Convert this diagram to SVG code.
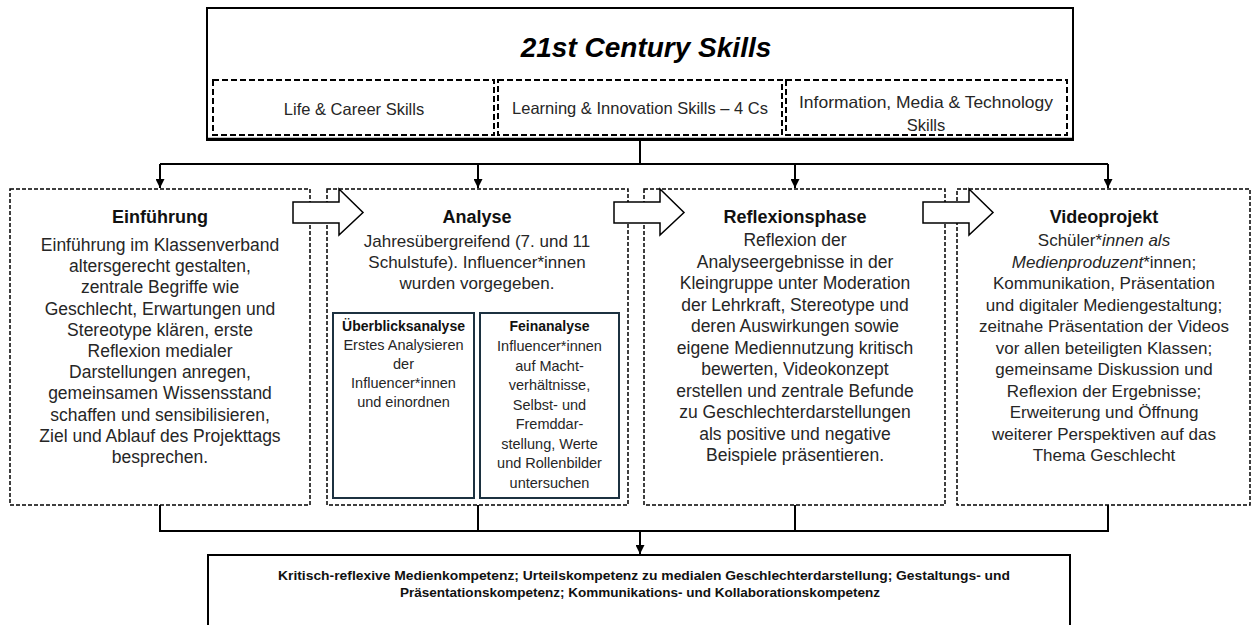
<svg xmlns="http://www.w3.org/2000/svg" width="1256" height="625" viewBox="0 0 1256 625">
<defs>
<style>
.bg{fill:#fff}
.solid{fill:#fff;stroke:#000;stroke-width:2}
.dash{fill:#fff;stroke:#000;stroke-width:1.5;stroke-dasharray:4 2}
.dash2{fill:#fff;stroke:#000;stroke-width:2;stroke-dasharray:6 3}
.inner{fill:#fff;stroke:#1c3140;stroke-width:2}
.conn{fill:none;stroke:#000;stroke-width:2}
.barrow{fill:#fff;stroke:#000;stroke-width:1.5;stroke-linejoin:miter}
text{font-family:"Liberation Sans",Arial,sans-serif;fill:#262626;text-anchor:middle}
.title{font-size:28px;font-weight:bold;font-style:italic;fill:#000}
.lbl{font-size:16.5px}
.h{font-size:18px;font-weight:bold;fill:#111}
.b{font-size:17.5px}
.c{font-size:17px}
.ih{font-size:14px;font-weight:bold;fill:#111}
.ib{font-size:14.5px}
.bot{font-size:12.5px;font-weight:bold;fill:#111}
</style>
<marker id="ah" viewBox="0 0 10 10" refX="10" refY="5" markerWidth="4.5" markerHeight="4.5" orient="auto" markerUnits="strokeWidth">
<path d="M0,0 L10,5 L0,10 z" fill="#000"/>
</marker>
</defs>
<rect class="bg" x="0" y="0" width="1256" height="625"/>

<g id="skills">
<rect class="solid" x="207" y="8" width="866" height="132"/>
<line x1="207" y1="138.5" x2="1073" y2="138.5" stroke="#000" stroke-width="1.5"/>
<text class="title" x="646" y="57">21st Century Skills</text>
<rect class="dash2" x="213" y="80" width="281" height="55"/>
<rect class="dash2" x="498" y="80" width="284" height="55"/>
<rect class="dash2" x="786" y="80" width="281" height="55"/>
<text class="lbl" x="354" y="115">Life &amp; Career Skills</text>
<text class="lbl" x="640" y="114">Learning &amp; Innovation Skills – 4 Cs</text>
<text class="lbl" x="926" y="108" textLength="254" lengthAdjust="spacingAndGlyphs">Information, Media &amp; Technology</text>
<text class="lbl" x="926" y="131">Skills</text>
</g>

<g id="einfuehrung">
<rect class="dash" x="10" y="189" width="300" height="316"/>
<text class="h" x="160" y="223">Einführung</text>
<text class="b" x="160" y="251">Einführung im Klassenverband</text>
<text class="b" x="160" y="272.2">altersgerecht gestalten,</text>
<text class="b" x="160" y="293.4">zentrale Begriffe wie</text>
<text class="b" x="160" y="314.6">Geschlecht, Erwartungen und</text>
<text class="b" x="160" y="335.8">Stereotype klären, erste</text>
<text class="b" x="160" y="357">Reflexion medialer</text>
<text class="b" x="160" y="378.2">Darstellungen anregen,</text>
<text class="b" x="160" y="399.4">gemeinsamen Wissensstand</text>
<text class="b" x="160" y="420.6">schaffen und sensibilisieren,</text>
<text class="b" x="160" y="441.8">Ziel und Ablauf des Projekttags</text>
<text class="b" x="160" y="463">besprechen.</text>
</g>

<g id="analyse">
<rect class="dash" x="327" y="189" width="301" height="316"/>
<text class="h" x="477" y="223">Analyse</text>
<text class="c" x="477" y="247">Jahresübergreifend (7. und 11</text>
<text class="c" x="477" y="268">Schulstufe). Influencer*innen</text>
<text class="c" x="477" y="289">wurden vorgegeben.</text>
</g>

<g id="ueberblicksanalyse">
<rect class="inner" x="333" y="313" width="141" height="185"/>
<text class="ih" x="403.5" y="331">Überblicksanalyse</text>
<text class="ib" x="403.5" y="350">Erstes Analysieren</text>
<text class="ib" x="403.5" y="369">der</text>
<text class="ib" x="403.5" y="388">Influencer*innen</text>
<text class="ib" x="403.5" y="407">und einordnen</text>
</g>

<g id="feinanalyse">
<rect class="inner" x="480" y="313" width="139" height="185"/>
<text class="ih" x="549.5" y="331">Feinanalyse</text>
<text class="ib" x="549.5" y="351">Influencer*innen</text>
<text class="ib" x="549.5" y="370.5">auf Macht-</text>
<text class="ib" x="549.5" y="390">verhältnisse,</text>
<text class="ib" x="549.5" y="409.5">Selbst- und</text>
<text class="ib" x="549.5" y="429">Fremddar-</text>
<text class="ib" x="549.5" y="448.5">stellung, Werte</text>
<text class="ib" x="549.5" y="468">und Rollenbilder</text>
<text class="ib" x="549.5" y="487.5">untersuchen</text>
</g>

<g id="reflexionsphase">
<rect class="dash" x="644" y="189" width="301" height="316"/>
<text class="h" x="795" y="223">Reflexionsphase</text>
<text class="b" x="795" y="246">Reflexion der</text>
<text class="b" x="795" y="267.5">Analyseergebnisse in der</text>
<text class="b" x="795" y="289">Kleingruppe unter Moderation</text>
<text class="b" x="795" y="310.5">der Lehrkraft, Stereotype und</text>
<text class="b" x="795" y="332">deren Auswirkungen sowie</text>
<text class="b" x="795" y="353.5">eigene Mediennutzung kritisch</text>
<text class="b" x="795" y="375">bewerten, Videokonzept</text>
<text class="b" x="795" y="396.5">erstellen und zentrale Befunde</text>
<text class="b" x="795" y="418">zu Geschlechterdarstellungen</text>
<text class="b" x="795" y="439.5">als positive und negative</text>
<text class="b" x="795" y="461">Beispiele präsentieren.</text>
</g>

<g id="videoprojekt">
<rect class="dash" x="957" y="189" width="293" height="316"/>
<text class="h" x="1104" y="223">Videoprojekt</text>
<text class="c" x="1104" y="246">Schüler*<tspan font-style="italic">innen als</tspan></text>
<text class="c" x="1104" y="267.5"><tspan font-style="italic">Medienproduzent</tspan>*innen;</text>
<text class="c" x="1104" y="289">Kommunikation, Präsentation</text>
<text class="c" x="1104" y="310.5">und digitaler Mediengestaltung;</text>
<text class="c" x="1104" y="332">zeitnahe Präsentation der Videos</text>
<text class="c" x="1104" y="353.5">vor allen beteiligten Klassen;</text>
<text class="c" x="1104" y="375">gemeinsame Diskussion und</text>
<text class="c" x="1104" y="396.5">Reflexion der Ergebnisse;</text>
<text class="c" x="1104" y="418">Erweiterung und Öffnung</text>
<text class="c" x="1104" y="439.5">weiterer Perspektiven auf das</text>
<text class="c" x="1104" y="461">Thema Geschlecht</text>
</g>

<g id="kompetenzen">
<rect class="solid" x="208" y="555" width="862" height="95"/>
<text class="bot" x="644" y="580" textLength="732" lengthAdjust="spacingAndGlyphs">Kritisch-reflexive Medienkompetenz; Urteilskompetenz zu medialen Geschlechterdarstellung;  Gestaltungs- und</text>
<text class="bot" x="640" y="597" textLength="480" lengthAdjust="spacingAndGlyphs">Präsentationskompetenz; Kommunikations- und Kollaborationskompetenz</text>
</g>

<g id="connectors">
<path class="conn" d="M640,140 V164 M160,164 H1108"/>
<path class="conn" d="M160,164 V188" marker-end="url(#ah)"/>
<path class="conn" d="M478,164 V188" marker-end="url(#ah)"/>
<path class="conn" d="M795,164 V188" marker-end="url(#ah)"/>
<path class="conn" d="M1108,164 V188" marker-end="url(#ah)"/>
<path class="conn" d="M160,505 V531 M478,505 V531 M795,505 V531 M1108,505 V531 M159,531 H1109"/>
<path class="conn" d="M640,531 V554" marker-end="url(#ah)"/>
<polygon class="barrow" points="293,202 339,202 339,189 363,212.5 339,235 339,223 293,223"/>
<polygon class="barrow" points="614,202 660,202 660,189 684,212.5 660,235 660,223 614,223"/>
<polygon class="barrow" points="923,202 969,202 969,189 993,212.5 969,235 969,223 923,223"/>
</g>
</svg>
